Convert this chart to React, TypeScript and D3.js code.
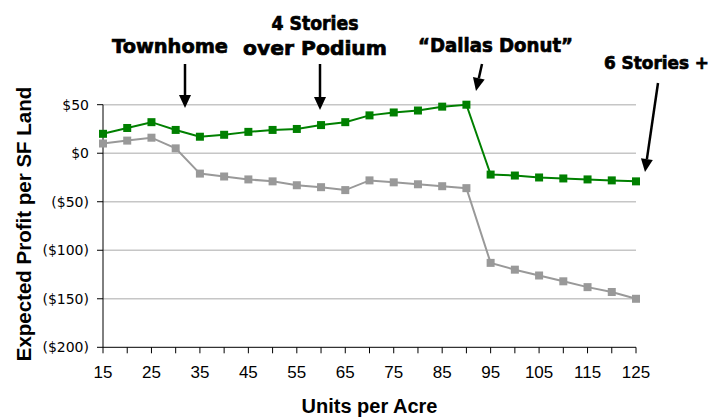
import React from "react";
import * as d3 from "d3";

const unitsPerAcre = [15, 20, 25, 30, 35, 40, 45, 50, 55, 60, 65, 70, 75, 80, 85, 90, 95, 100, 105, 110, 115, 120, 125];
const greenSeries = [20, 26, 32, 24, 17, 19, 22, 24, 25, 29, 32, 39, 42, 44, 48, 50, -22, -23, -25, -26, -27, -28, -29];
const graySeries = [10, 13, 16, 5, -21, -24, -27, -29, -33, -35, -38, -28, -30, -32, -34, -36, -113, -120, -126, -132, -138, -143, -150];
const yTicks = [50, 0, -50, -100, -150, -200];
const xLabelTicks = [15, 25, 35, 45, 55, 65, 75, 85, 95, 105, 115, 125];
const xMinorTicks = [15, 20, 25, 30, 35, 40, 45, 50, 55, 60, 65, 70, 75, 80, 85, 90, 95, 100, 105, 110, 115, 120, 125];

const annotations = [
  { lines: [{ t: "Townhome", w: 116, y: 53, fs: 19.5 }], tx: 170, from: [185, 64], to: [185, 108] },
  { lines: [{ t: "4 Stories", w: 87, y: 30, fs: 19.5 }, { t: "over Podium", w: 144, y: 55, fs: 19.5 }], tx: 315, from: [320, 64], to: [320, 110] },
  { lines: [{ t: "\u201cDallas Donut\u201d", w: 155, y: 52, fs: 19.5 }], tx: 495.5, from: [482, 64], to: [476, 91] },
  { lines: [{ t: "6 Stories +", w: 105, y: 69, fs: 17 }], tx: 656.5, from: [658, 83], to: [645, 172] },
];

const fmt = (v: number) => (v < 0 ? `($${Math.abs(v)})` : `$${v}`);

export default function App() {
  const W = 715, H = 417;
  const x = d3.scaleLinear().domain([15, 125]).range([103, 636]);
  const y = d3.scaleLinear().domain([-200, 50]).range([347.3, 104.7]);
  const line = d3.line<number>().x((_, i) => x(unitsPerAcre[i])).y((d) => y(d));
  const annFont = "'Futura', 'DejaVu Sans', sans-serif";

  const arrow = (from: number[], to: number[], key: number) => {
    const dx = to[0] - from[0], dy = to[1] - from[1];
    const len = Math.hypot(dx, dy);
    const ux = dx / len, uy = dy / len;
    const hl = 13, hw = 6;
    const bx = to[0] - ux * hl, by = to[1] - uy * hl;
    const px = -uy, py = ux;
    return (
      <g key={key}>
        <line x1={from[0]} y1={from[1]} x2={bx} y2={by} stroke="#000" strokeWidth={2.5} />
        <polygon
          points={`${to[0]},${to[1]} ${bx + px * hw},${by + py * hw} ${bx - px * hw},${by - py * hw}`}
          fill="#000"
        />
      </g>
    );
  };

  return (
    <svg width={W} height={H} style={{ position: "absolute", left: 0, top: 0, background: "#fff" }}>
      {/* gridlines */}
      {yTicks.filter((t) => t !== -200).map((t) => (
        <line key={t} x1={x(15)} x2={636} y1={y(t)} y2={y(t)} stroke="#c6c6c6" strokeWidth={1.5} />
      ))}
      {/* axes */}
      <line x1={x(15)} x2={x(15)} y1={y(50)} y2={y(-200)} stroke="#000" strokeWidth={1} />
      <line x1={x(15)} x2={636} y1={y(-200)} y2={y(-200)} stroke="#000" strokeWidth={1} />
      {yTicks.map((t) => (
        <g key={t}>
          <line x1={x(15) - 6} x2={x(15)} y1={y(t)} y2={y(t)} stroke="#000" />
          <text
            x={89}
            y={y(t)}
            dy="0.35em"
            textAnchor="end"
            fontFamily="'DejaVu Sans', sans-serif"
            fontSize={14}
            fill="#000"
          >
            {fmt(t)}
          </text>
        </g>
      ))}
      {xMinorTicks.map((t) => (
        <line key={t} x1={x(t)} x2={x(t)} y1={y(-200)} y2={y(-200) + 6} stroke="#000" />
      ))}
      {xLabelTicks.map((t) => (
        <text
          key={t}
          x={x(t)}
          y={378}
          textAnchor="middle"
          fontFamily="'Liberation Sans Narrow', 'Arial Narrow', sans-serif"
          fontSize={17}
          fill="#000"
        >
          {t}
        </text>
      ))}
      {/* axis titles */}
      <text x={369.5} y={413} textAnchor="middle" fontFamily="'Liberation Sans', Arial, sans-serif" fontWeight="bold" fontSize={20}>
        Units per Acre
      </text>
      <text
        transform={`translate(31, 224) rotate(-90)`}
        textAnchor="middle"
        fontFamily="'Liberation Sans', Arial, sans-serif"
        fontWeight="bold"
        fontSize={20.5}
      >
        Expected Profit per SF Land
      </text>
      {/* series */}
      <path d={line(graySeries) || ""} fill="none" stroke="#999999" strokeWidth={2} />
      {graySeries.map((v, i) => (
        <rect key={i} x={x(unitsPerAcre[i]) - 4} y={y(v) - 4} width={8} height={8} fill="#999999" />
      ))}
      <path d={line(greenSeries) || ""} fill="none" stroke="#008000" strokeWidth={2} />
      {greenSeries.map((v, i) => (
        <rect key={i} x={x(unitsPerAcre[i]) - 4} y={y(v) - 4} width={8} height={8} fill="#008000" />
      ))}
      {/* annotations */}
      {annotations.map((a, k) => (
        <g key={k}>
          {a.lines.map((l, j) => (
            <text
              key={j}
              x={a.tx}
              y={l.y}
              textAnchor="middle"
              fontFamily={annFont}
              fontWeight="bold"
              fontSize={l.fs}
              fill="#000"
              stroke="#000"
              strokeWidth={0.7}
              textLength={l.w}
              lengthAdjust="spacingAndGlyphs"
            >
              {l.t}
            </text>
          ))}
          {arrow(a.from, a.to, k)}
        </g>
      ))}
    </svg>
  );
}
